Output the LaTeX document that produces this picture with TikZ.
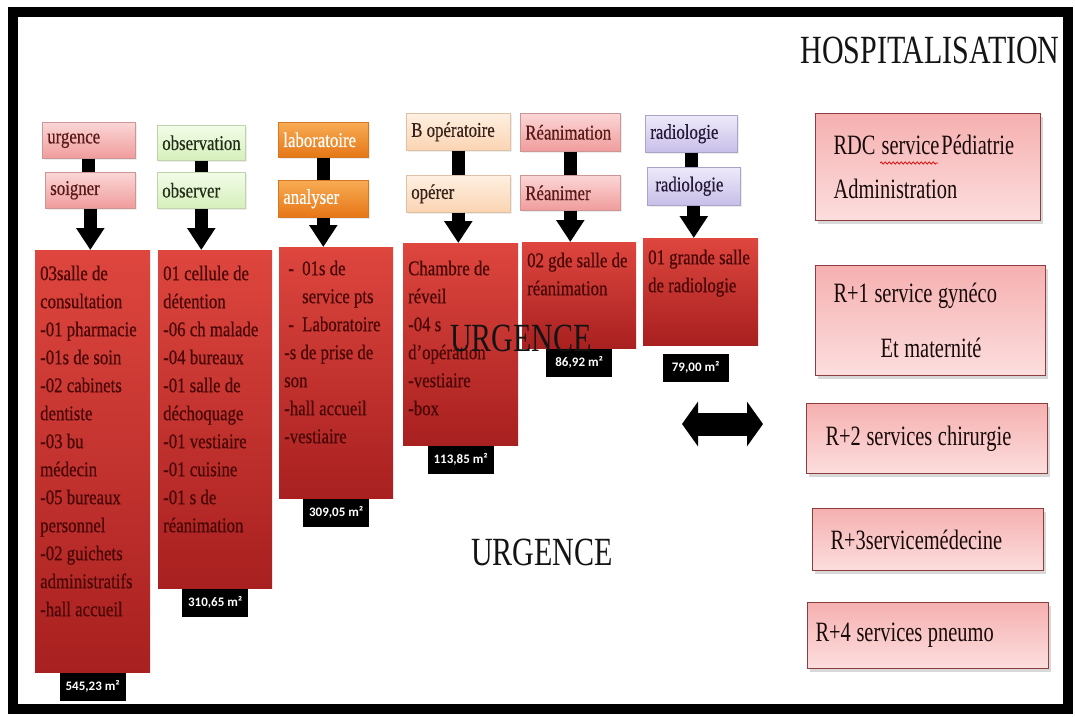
\documentclass[tikz,border=0pt]{standalone}
\usepackage{fontspec}
\setmainfont{Liberation Serif}
\newfontfamily\bodyfont[FakeStretch=0.8,FakeBold=0.4]{Liberation Serif}
\newfontfamily\titlefont[FakeStretch=0.75]{Liberation Serif}
\newfontfamily\floorfont[FakeStretch=0.73]{Liberation Serif}
\newfontfamily\areafont{Carlito}
\usetikzlibrary{arrows.meta,shadows,calc,decorations.pathmorphing}

\definecolor{roomtop}{RGB}{222,70,62}
\definecolor{roombot}{RGB}{168,32,32}
\definecolor{roomtxt}{RGB}{72,6,6}
\definecolor{frameink}{RGB}{0,0,0}

% narrow word spacing (node alignment would otherwise widen it)
\newcommand{\tightwords}{\spaceskip=0.2em plus 0.1em minus 0.05em\relax}

% room list: width, height, first-baseline offset, lines
\newcommand{\roomlist}[4]{%
  \parbox[c][#2][t]{#1}{\bodyfont\fontsize{21}{28}\selectfont
    \tightwords\raggedright\leftskip=5pt\relax
    \rule{0pt}{#3}#4}}

\tikzset{
  hdr/.style={anchor=north west, inner xsep=5pt, inner ysep=0pt, align=left,
    font=\bodyfont\fontsize{21}{25}\selectfont, line width=0.6pt,
    drop shadow={shadow xshift=1.5pt, shadow yshift=-1.5pt, opacity=0.15}},
  pinkhdr/.style={hdr, draw={rgb,255:red,205;green,150;blue,150},
    top color={rgb,255:red,251;green,214;blue,214},
    bottom color={rgb,255:red,240;green,156;blue,156},
    text={rgb,255:red,90;green,25;blue,25}},
  greenhdr/.style={hdr, draw={rgb,255:red,190;green,212;blue,170},
    top color={rgb,255:red,242;green,252;blue,232},
    bottom color={rgb,255:red,214;green,240;blue,188},
    text={rgb,255:red,35;green,45;blue,25}},
  orangehdr/.style={hdr, draw={rgb,255:red,212;green,120;blue,40},
    top color={rgb,255:red,248;green,172;blue,84},
    bottom color={rgb,255:red,230;green,118;blue,22},
    text=white},
  peachhdr/.style={hdr, draw={rgb,255:red,222;green,192;blue,165},
    top color={rgb,255:red,255;green,240;blue,226},
    bottom color={rgb,255:red,250;green,212;blue,178},
    text={rgb,255:red,55;green,35;blue,25}},
  lavhdr/.style={hdr, draw={rgb,255:red,172;green,162;blue,202},
    top color={rgb,255:red,238;green,234;blue,250},
    bottom color={rgb,255:red,200;green,190;blue,232},
    text={rgb,255:red,35;green,25;blue,55}},
  roombox/.style={anchor=north west, inner sep=0pt, text=roomtxt,
    top color=roomtop, bottom color=roombot},
  area/.style={anchor=north, fill=black, text=white, inner sep=0pt,
    minimum width=66pt, minimum height=28pt,
    font=\areafont\bfseries\fontsize{13}{15}\selectfont},
  floorbox/.style={anchor=north west, align=left, inner xsep=18pt, inner ysep=0pt,
    draw={rgb,255:red,140;green,62;blue,62}, line width=1.1pt,
    top color={rgb,255:red,246;green,176;blue,176},
    bottom color={rgb,255:red,252;green,222;blue,222},
    text={rgb,255:red,25;green,10;blue,10},
    font=\floorfont\fontsize{28}{33}\selectfont,
    drop shadow={shadow xshift=2pt, shadow yshift=-3pt, opacity=0.3}},
  bigtitle/.style={font=\titlefont\fontsize{40}{48}\selectfont, inner sep=0pt,
    text={rgb,255:red,20;green,20;blue,20}},
  link/.style={line width=13pt},
  bigarrow/.style={line width=13pt, -{Triangle[width=27pt,length=22pt]}},
  dblarrow/.style={line width=23pt,
    {Triangle[width=44pt,length=16pt]}-{Triangle[width=44pt,length=16pt]}}
}

\begin{document}
\begin{tikzpicture}[x=1pt,y=-1pt]
\useasboundingbox (0,0) rectangle (1075,716);
\fill[white] (0,0) rectangle (1075,716);

% outer frame
\draw[frameink, line width=10pt] (13,12) rectangle (1068,709);

% ---------- urgence column ----------
\node[pinkhdr, minimum width=93pt, minimum height=36pt, text width=83pt] (h1a) at (42,122) {urgence};
\node[pinkhdr, minimum width=90pt, minimum height=36pt, text width=80pt] (h1b) at (45,172) {soigner};
\node[roombox] (r1) at (35,250) {\roomlist{115pt}{422pt}{30pt}{%
  \mbox{03salle de}\\\mbox{consultation}\\\mbox{-01 pharmacie}\\\mbox{-01s de soin}\\
  \mbox{-02 cabinets}\\\mbox{dentiste}\\\mbox{-03 bu}\\\mbox{médecin}\\
  \mbox{-05 bureaux}\\\mbox{personnel}\\\mbox{-02 guichets}\\\mbox{administratifs}\\
  \mbox{-hall accueil}}};
\node[area] (a1) at (r1.south) {545,23 m²};

% ---------- observation column ----------
\node[greenhdr, minimum width=88pt, minimum height=35pt, text width=78pt] (h2a) at (157,125) {observation};
\node[greenhdr, minimum width=88pt, minimum height=36pt, text width=78pt] (h2b) at (157,172) {observer};
\node[roombox] (r2) at (158,250) {\roomlist{114pt}{338pt}{30pt}{%
  \mbox{01 cellule de}\\\mbox{détention}\\\mbox{-06 ch malade}\\\mbox{-04 bureaux}\\
  \mbox{-01 salle de}\\\mbox{déchoquage}\\\mbox{-01 vestiaire}\\\mbox{-01 cuisine}\\
  \mbox{-01 s de}\\\mbox{réanimation}}};
\node[area] (a2) at (r2.south) {310,65 m²};

% ---------- laboratoire column ----------
\node[orangehdr, minimum width=90pt, minimum height=35pt, text width=80pt] (h3a) at (278,122) {laboratoire};
\node[orangehdr, minimum width=90pt, minimum height=37pt, text width=80pt] (h3b) at (278,180) {analyser};
\node[roombox] (r3) at (279,247) {\roomlist{114pt}{251pt}{28pt}{%
  \mbox{\makebox[18pt][l]{\ -}01s de}\\\mbox{\hspace*{18pt}service pts}\\
  \mbox{\makebox[18pt][l]{\ -}Laboratoire}\\\mbox{-s de prise de}\\\mbox{son}\\
  \mbox{-hall accueil}\\\mbox{-vestiaire}}};
\node[area] (a3) at (r3.south) {309,05 m²};

% ---------- bloc opératoire column ----------
\node[peachhdr, minimum width=104pt, minimum height=37pt, text width=94pt] (h4a) at (406,113) {\tightwords B opératoire};
\node[peachhdr, minimum width=104pt, minimum height=37pt, text width=94pt] (h4b) at (406,175) {opérer};
\node[roombox] (r4) at (403,243) {\roomlist{115pt}{202pt}{32pt}{%
  \mbox{Chambre de}\\\mbox{réveil}\\\mbox{-04 s}\\\mbox{d’opération}\\
  \mbox{-vestiaire}\\\mbox{-box}}};
\node[area] (a4) at (r4.south) {113,85 m²};

% ---------- réanimation column ----------
\node[pinkhdr, minimum width=100pt, minimum height=38pt, text width=90pt] (h5a) at (520,113) {Réanimation};
\node[pinkhdr, minimum width=100pt, minimum height=35pt, text width=90pt] (h5b) at (520,175) {Réanimer};
\node[roombox] (r5) at (522,242) {\roomlist{114pt}{106pt}{25pt}{%
  \mbox{02 gde salle de}\\\mbox{réanimation}}};
\node[area] (a5) at (r5.south) {86,92 m²};

% ---------- radiologie column ----------
\node[lavhdr, minimum width=92pt, minimum height=37pt, text width=82pt] (h6a) at (645,115) {radiologie};
\node[lavhdr, minimum width=93pt, minimum height=38pt, text width=83pt] (h6b) at (647,167) {\hspace*{3pt}radiologie};
\node[roombox] (r6) at (643,238) {\roomlist{115pt}{107pt}{26pt}{%
  \mbox{01 grande salle}\\\mbox{de radiologie}}};
\node[area] (a6) at ($(r6.south)+(-5,8)$) {79,00 m²};

% header links and arrows
\foreach \c in {1,...,6}{
  \draw[link] (h\c a.south) -- (h\c a.south |- h\c b.north);
  \draw[bigarrow] (h\c b.south) -- (h\c b.south |- r\c.north);
}

% titles
\node[bigtitle] (hosp) at (930,50) {HOSPITALISATION};
\node[bigtitle] (urgmid) at (521,338) {URGENCE};
\node[bigtitle] (urgbot) at (542,552) {URGENCE};

% hospitalisation floors
\node[floorbox, minimum width=225pt, minimum height=107pt, text width=189pt] (f0) at (815,113)
  {\tightwords\mbox{RDC\hspace{6pt}service\hspace{2pt}Pédiatrie}\\[11pt]\mbox{Administration}};
\node[floorbox, minimum width=230pt, minimum height=110pt, text width=194pt] (f1) at (815,265)
  {\tightwords\mbox{R+1 service gynéco}\\[22pt]\mbox{\hspace*{47pt}Et maternité}};
\node[floorbox, minimum width=241pt, minimum height=70pt, text width=203pt, inner xsep=19pt] (f2) at (806,403)
  {\tightwords\mbox{R+2 services chirurgie}};
\node[floorbox, minimum width=231pt, minimum height=62pt, text width=195pt] (f3) at (812,508)
  {\tightwords\mbox{R+3servicemédecine}};
\node[floorbox, minimum width=241pt, minimum height=66pt, text width=225pt, inner xsep=8pt] (f4) at (807,602)
  {\tightwords\mbox{R+4 services pneumo}};

% spelling squiggle under "service"
\draw[red!85!black, line width=0.7pt, decorate,
  decoration={snake, amplitude=1.1pt, segment length=4pt}]
  ($(f0.north west)+(65,50)$) -- ($(f0.north west)+(123,50)$);

% link between emergency block and hospitalisation
\coordinate (dl) at (682,424);
\coordinate (dr) at (763,424);
\draw[dblarrow] (dl) -- (dr);
\end{tikzpicture}
\end{document}
